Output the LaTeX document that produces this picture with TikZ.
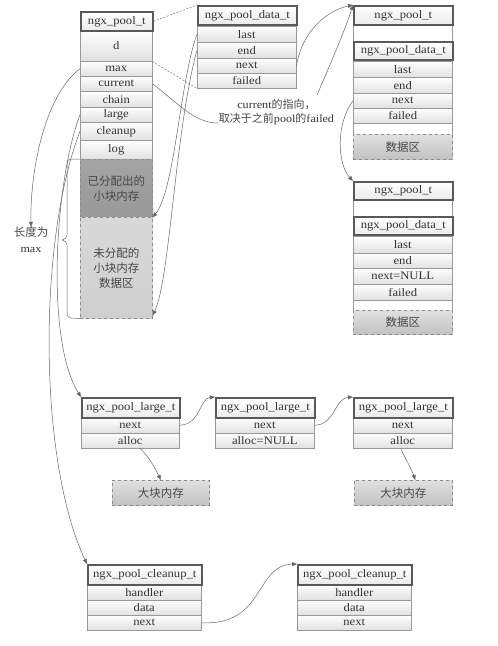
\documentclass[tikz,border=0pt]{standalone}
\usepackage{fontspec}
\setmainfont{Liberation Serif}[FakeStretch=1.1]
\newfontfamily\cjk{Noto Sans CJK SC}
\usetikzlibrary{arrows.meta,calc}
\tikzset{
 base/.style={inner sep=0pt, anchor=north west, font=\fontsize{11.5}{12}\selectfont, text=black!80},
 hdr/.style={base, draw=black!65, line width=1.6pt, top color=white, bottom color=black!8},
 row/.style={base, draw=black!40, line width=0.5pt, top color=white, bottom color=black!12},
 gapbox/.style={base, draw=black!40, line width=0.5pt, fill=white},
 dat/.style={base, draw=black!45, dashed, line width=0.5pt, top color=black!12, bottom color=black!24, font=\cjk\fontsize{11.5}{15}\selectfont, align=center, text=black!72},
 arr/.style={draw=black!60, line width=0.5pt, -{Triangle[length=5pt,width=4pt]}},
 conn/.style={draw=black!60, line width=0.5pt},
 dsh/.style={draw=black!55, line width=0.5pt, dash pattern=on 2pt off 1.5pt},
 lbl/.style={inner sep=0pt, align=center, text=black!80},
}
\newcommand\mkcell[7]{\node[#2, minimum width=#5pt, minimum height=#6pt] (#1) at (#3,#4) {#7};}
\begin{document}
\begin{tikzpicture}[x=1pt,y=-1pt]
\useasboundingbox (0,0) rectangle (498,646);
% main pool
\mkcell{m-d}{row}{80}{30}{72}{31}{d}
\mkcell{m-max}{row}{80}{61}{72}{15}{max}
\mkcell{m-current}{row}{80}{76}{72}{15}{current}
\mkcell{m-chain}{row}{80}{91}{72}{16}{chain}
\mkcell{m-large}{row}{80}{107}{72}{15}{large}
\mkcell{m-cleanup}{row}{80}{122}{72}{18}{cleanup}
\mkcell{m-log}{row}{80}{140}{72}{19}{log}
\mkcell{m-alloc}{dat, top color=black!36, bottom color=black!40}{80}{159}{72}{58}{已分配出的\\小块内存}
\mkcell{m-free}{dat, top color=black!15, bottom color=black!19}{80}{217}{72}{101}{未分配的\\小块内存\\数据区}
\mkcell{m-hdr}{hdr}{80}{11}{72}{19}{ngx\_pool\_t}
% pool data
\mkcell{pd-last}{row}{197}{26}{99}{16}{last}
\mkcell{pd-end}{row}{197}{42}{99}{16}{end}
\mkcell{pd-next}{row}{197}{58}{99}{15}{next}
\mkcell{pd-failed}{row}{197}{73}{99}{15}{failed}
\mkcell{pd-hdr}{hdr}{197}{5}{99}{19}{ngx\_pool\_data\_t}
% pool 2
\mkcell{p2-bg}{gapbox}{353}{5}{99}{154}{}
\mkcell{p2-last}{row}{353}{61}{99}{16}{last}
\mkcell{p2-end}{row}{353}{77}{99}{16}{end}
\mkcell{p2-next}{row}{353}{93}{99}{15}{next}
\mkcell{p2-failed}{row}{353}{108}{99}{15}{failed}
\mkcell{p2-data}{dat}{353}{134}{99}{25}{数据区}
\mkcell{p2-hdr}{hdr}{353}{5}{99}{19}{ngx\_pool\_t}
\mkcell{p2-pd}{hdr}{353}{41}{99}{18}{ngx\_pool\_data\_t}
% pool 3
\mkcell{p3-bg}{gapbox}{353}{181}{99}{153}{}
\mkcell{p3-last}{row}{353}{236}{99}{17}{last}
\mkcell{p3-end}{row}{353}{253}{99}{15}{end}
\mkcell{p3-next}{row}{353}{268}{99}{16}{next=NULL}
\mkcell{p3-failed}{row}{353}{284}{99}{16}{failed}
\mkcell{p3-data}{dat}{353}{310}{99}{24}{数据区}
\mkcell{p3-hdr}{hdr}{353}{181}{99}{18}{ngx\_pool\_t}
\mkcell{p3-pd}{hdr}{353}{216}{99}{18}{ngx\_pool\_data\_t}
% large
\mkcell{lg1-next}{row}{81}{417}{98}{16}{next}
\mkcell{lg1-alloc}{row}{81}{433}{98}{15}{alloc}
\mkcell{lg1-hdr}{hdr}{81}{397}{98}{20}{ngx\_pool\_large\_t}
\mkcell{lg2-next}{row}{215}{417}{99}{16}{next}
\mkcell{lg2-alloc}{row}{215}{433}{99}{15}{alloc=NULL}
\mkcell{lg2-hdr}{hdr}{215}{397}{99}{20}{ngx\_pool\_large\_t}
\mkcell{lg3-next}{row}{353}{417}{99}{16}{next}
\mkcell{lg3-alloc}{row}{353}{433}{99}{15}{alloc}
\mkcell{lg3-hdr}{hdr}{353}{397}{99}{20}{ngx\_pool\_large\_t}
\mkcell{big1}{dat}{112}{480}{97}{25}{大块内存}
\mkcell{big2}{dat}{354}{480}{98}{25}{大块内存}
% cleanup
\mkcell{cl1-handler}{row}{87}{584}{114}{16}{handler}
\mkcell{cl1-data}{row}{87}{600}{114}{15}{data}
\mkcell{cl1-next}{row}{87}{615}{114}{15}{next}
\mkcell{cl1-hdr}{hdr}{87}{564}{114}{20}{ngx\_pool\_cleanup\_t}
\mkcell{cl2-handler}{row}{297}{584}{114}{16}{handler}
\mkcell{cl2-data}{row}{297}{600}{114}{15}{data}
\mkcell{cl2-next}{row}{297}{615}{114}{15}{next}
\mkcell{cl2-hdr}{hdr}{297}{564}{114}{20}{ngx\_pool\_cleanup\_t}
% labels
\node[lbl, font=\fontsize{11}{16}\selectfont] (lenlbl) at (31,240) {{\cjk\fontsize{11.5}{16}\selectfont\color{black!72}长度为}\\max};
\node[lbl, font=\fontsize{11}{14}\selectfont] (note) at (276.5,112) {current{\cjk\fontsize{11}{14}\selectfont\color{black!72}的指向，}\\{\cjk\fontsize{11}{14}\selectfont\color{black!72}取决于之前}pool{\cjk\fontsize{11}{14}\selectfont\color{black!72}的}failed};
\coordinate (notein) at (218,123);
\coordinate (noteout) at (317,95);
% brace
\draw[conn] (m-alloc.north west) -- (71,159) to[out=180,in=90] (67,163) -- (67,235) to[out=-90,in=0] (62,240) to[out=0,in=90] (67,245) -- (67,314) to[out=-90,in=180] (71,318) -- (m-free.south west);
% connectors
\draw[dsh] (m-hdr.east) -- (pd-hdr.north west);
\draw[dsh] (m-d.south east) -- (pd-failed.south west);
\draw[arr] (m-max.west) .. controls (45,95) and (30,170) .. (lenlbl.north);
\draw[conn] (m-current.east) .. controls (180,105) and (195,123) .. (notein);
\draw[arr] (noteout) .. controls (330,65) and (345,30) .. (p2-hdr.north west);
\draw[arr] (pd-next.east) .. controls (300,40) and (320,12) .. (p2-hdr.north west);
\draw[arr] (pd-last.west) .. controls (180,80) and (175,190) .. (m-alloc.south east);
\draw[arr] (pd-end.west) .. controls (175,130) and (170,280) .. ($(m-free.south east)+(0,-3)$);
\draw[arr] (m-large.west) .. controls (55,180) and (45,340) .. (lg1-hdr.north west);
\draw[arr] (m-cleanup.west) .. controls (38,240) and (38,460) .. (cl1-hdr.north west);
\draw[arr] (lg1-next.east) .. controls (200,425) and (200,398) .. (lg2-hdr.north west);
\draw[arr] (lg2-next.east) .. controls (335,425) and (335,398) .. (lg3-hdr.north west);
\draw[arr] ($(lg1-alloc.south)+(10,0)$) .. controls (150,458) and (156,470) .. (big1.north);
\draw[arr] ($(lg3-alloc.south)+(-2,0)$) .. controls (405,458) and (412,470) .. ($(big2.north)+(12,0)$);
\draw[arr] (cl1-next.east) .. controls (265,626) and (255,565) .. (cl2-hdr.north west);
\draw[arr] (p2-next.west) .. controls (335,125) and (338,165) .. (p3-hdr.north west);
\end{tikzpicture}
\end{document}
